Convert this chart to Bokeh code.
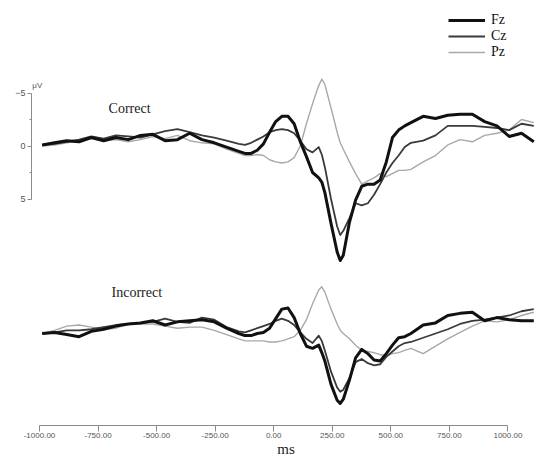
from bokeh.plotting import figure
from bokeh.models import (Range1d, LinearAxis, FixedTicker, NumeralTickFormatter,
                          Label, Legend, LegendItem)
from bokeh.embed import file_html
from bokeh.resources import INLINE

# ---------------- data (ms, microvolts; negative plotted upward) ----------------
time_ms = [-1000, -950, -900, -850, -800, -750, -700, -650, -600, -550, -500, -450,
           -400, -350, -300, -250, -200,
           -175, -150, -125, -100, -75, -50, -25, 0, 25, 50, 75, 100, 125,
           137.5, 150, 175, 200, 212.5,
           225, 250, 275, 300, 325, 350, 375, 400, 425, 450, 475, 500,
           550, 600, 650, 700, 750, 800, 850, 900, 950, 1000]

correct_fz = [-0.1, -0.3, -0.5, -0.4, -0.8, -0.5, -0.8, -0.6, -1.0, -1.1, -0.5, -0.6,
              -1.2, -0.6, -0.3, 0.1, 0.5,
              0.7, 0.7, 0.4, -0.2, -1.3, -2.3, -2.8, -2.8, -2.1, -0.4, 1.0, 2.5, 3.0,
              3.4, 4.4, 7.3, 10.0, 10.8,
              10.3, 7.2, 5.1, 3.8, 3.6, 3.6, 3.2, 1.5, -0.8, -1.5, -1.9, -2.2,
              -2.8, -2.6, -2.9, -3.0, -3.0, -2.3, -1.9, -0.9, -1.2, -0.4]
correct_cz = [-0.1, -0.2, -0.4, -0.6, -0.9, -0.7, -1.0, -0.9, -0.8, -1.1, -1.4, -1.6,
              -1.3, -1.0, -0.8, -0.5, -0.2,
              -0.1, -0.3, -0.6, -0.9, -1.3, -1.5, -1.6, -1.5, -1.2, -0.5, 0.3, 0.6, 0.1,
              0.8, 2.0, 5.0, 7.6, 8.4,
              8.0, 6.8, 5.4, 5.6, 5.4, 4.6, 3.6, 2.5, 1.6, 0.9, 0.1, -0.3,
              -0.5, -1.0, -1.9, -1.9, -1.9, -1.8, -1.7, -1.5, -2.1, -1.9]
correct_pz = [0.0, -0.1, -0.3, -0.5, -0.7, -0.5, -0.6, -0.4, -0.6, -0.9, -0.7, -1.0,
              -0.5, -0.3, -0.2, 0.3, 0.7,
              0.9, 0.9, 0.8, 0.9, 1.3, 1.5, 1.6, 1.5, 1.1, 0.0, -2.1, -4.0, -5.7,
              -6.3, -5.8, -3.6, -1.3, -0.3,
              0.3, 1.5, 2.6, 3.6, 3.3, 3.0, 2.6, 2.9, 2.6, 2.3, 2.3, 2.2,
              1.5, 0.9, -0.1, -0.6, -0.4, -1.0, -1.2, -1.5, -2.5, -2.2]

incorrect_fz = [0.0, -0.1, 0.1, 0.3, -0.2, -0.4, -0.7, -0.9, -1.0, -1.2, -0.8, -1.1,
                -1.2, -1.3, -1.1, -0.5, 0.0,
                0.2, 0.2, 0.0, -0.1, -0.5, -1.4, -2.3, -2.4, -1.5, 0.0, 1.2, 1.4, 1.1,
                1.8, 2.6, 4.8, 6.3, 6.6,
                6.2, 4.4, 2.3, 1.5, 1.9, 2.5, 2.6, 1.9, 1.1, 0.4, 0.3, 0.0,
                -0.8, -1.0, -1.7, -1.9, -2.0, -1.2, -1.5, -1.3, -1.2, -1.2]
incorrect_cz = [0.0, -0.1, -0.3, -0.3, -0.4, -0.6, -0.8, -0.9, -1.0, -1.1, -1.4, -1.1,
                -1.0, -1.5, -1.3, -0.6, -0.2,
                -0.1, -0.3, -0.5, -0.7, -0.9, -1.2, -1.4, -1.2, -0.8, -0.1, 0.5, 0.9, 0.2,
                0.7, 1.6, 3.6, 5.1, 5.5,
                5.3, 4.2, 2.7, 2.4, 2.8, 3.0, 2.9, 2.2, 1.7, 1.2, 0.9, 0.8,
                0.4, 0.0, -0.4, -0.9, -1.2, -1.3, -1.5, -1.7, -2.1, -2.3]
incorrect_pz = [0.0, -0.3, -0.7, -0.8, -0.6, -0.4, -0.5, -0.9, -0.9, -0.9, -0.7, -0.5,
                -0.6, -0.6, -0.3, 0.1, 0.5,
                0.7, 0.7, 0.7, 0.7, 0.8, 0.8, 0.7, 0.5, 0.3, -0.3, -1.3, -2.8, -4.1,
                -4.4, -3.9, -2.3, -0.9, -0.3,
                0.0, 0.5, 1.1, 1.6, 1.7, 1.8, 2.0, 2.1, 1.9, 1.8, 1.6, 1.4,
                1.9, 1.2, 0.5, -0.1, -0.7, -1.2, -1.1, -1.3, -1.7, -2.0]

channels = ["Fz", "Cz", "Pz"]
x_ticks = [-1000, -750, -500, -250, 0, 250, 500, 750, 1000]
y_ticks = [-5, 0, 5]
y_minor_ticks = [-2.5, 2.5]

# ---------------- layout (figure pixels) ----------------
W, H = 550, 462
BORDER_L, BORDER_R, BORDER_T, BORDER_B = 31, 10, 0, 37
frame_l, frame_r = BORDER_L, W - BORDER_R
frame_t, frame_b = BORDER_T, H - BORDER_B

LINE_X0, LINE_PX_PER_MS = 287.5, 0.2458      # epoch traces
AXIS_X0, AXIS_PX_PER_MS = 273.2, 0.2342      # printed time axis
TOP_Y0, BOT_Y0, PX_PER_UV = 145.5, 333.0, 10.6


def xspan(x0, scale):
    return (frame_l - x0) / scale, (frame_r - x0) / scale


def yspan(y0):
    return (frame_b - y0) / PX_PER_UV, (frame_t - y0) / PX_PER_UV


p = figure(width=W, height=H, output_backend="svg", toolbar_location=None,
           x_range=Range1d(*xspan(LINE_X0, LINE_PX_PER_MS)),
           y_range=Range1d(*yspan(TOP_Y0)),
           x_axis_type=None, y_axis_type=None,
           min_border_left=BORDER_L, min_border_right=BORDER_R,
           min_border_top=BORDER_T, min_border_bottom=BORDER_B)
p.extra_x_ranges = {"axis": Range1d(*xspan(AXIS_X0, AXIS_PX_PER_MS))}
p.extra_y_ranges = {"inc": Range1d(*yspan(BOT_Y0))}
p.outline_line_color = None
p.background_fill_color = "white"
p.border_fill_color = "white"

styles = {"Fz": dict(line_color="#111111", line_width=3.0),
          "Cz": dict(line_color="#3a3a3a", line_width=1.8),
          "Pz": dict(line_color="#a8a8a8", line_width=1.4)}

correct = {"Fz": correct_fz, "Cz": correct_cz, "Pz": correct_pz}
incorrect = {"Fz": incorrect_fz, "Cz": incorrect_cz, "Pz": incorrect_pz}

top_renderers = {}
for ch in reversed(channels):
    top_renderers[ch] = p.line(time_ms, correct[ch], line_join="round", **styles[ch])
    p.line(time_ms, incorrect[ch], y_range_name="inc", line_join="round", **styles[ch])

# y axis of the upper panel
yax = LinearAxis(ticker=FixedTicker(ticks=y_ticks, minor_ticks=y_minor_ticks),
                 bounds=(-5, 5),
                 axis_line_color="#8a8a8a", major_tick_line_color="#8a8a8a",
                 minor_tick_line_color="#8a8a8a",
                 major_tick_out=4, major_tick_in=0, minor_tick_out=2, minor_tick_in=0,
                 major_label_standoff=2,
                 major_label_text_font="Liberation Sans",
                 major_label_text_font_size="9px",
                 major_label_text_color="#555555")
p.add_layout(yax, "left")

# printed time axis
xax = LinearAxis(x_range_name="axis", ticker=FixedTicker(ticks=x_ticks, minor_ticks=[]),
                 bounds=(-1000, 1000),
                 formatter=NumeralTickFormatter(format="0.00"),
                 axis_line_color="#8a8a8a", major_tick_line_color="#8a8a8a",
                 major_tick_out=6, major_tick_in=0,
                 major_label_standoff=1,
                 major_label_text_font="Liberation Sans",
                 major_label_text_font_size="8px",
                 major_label_text_color="#555555",
                 axis_label="ms", axis_label_standoff=0,
                 axis_label_text_font="Liberation Serif",
                 axis_label_text_font_style="normal",
                 axis_label_text_font_size="15px",
                 axis_label_text_color="#222222")
p.add_layout(xax, "below")

# annotations
p.add_layout(Label(x=-1040, y=-5.3, text="μV", text_font="Liberation Sans",
                   text_font_size="8px", text_color="#555555",
                   text_baseline="bottom", text_align="left"))
p.add_layout(Label(x=-730, y=-3.5, text="Correct", text_font="Liberation Serif",
                   text_font_size="14px", text_color="#1a1a1a",
                   text_baseline="middle", text_align="left"))
p.add_layout(Label(x=-718, y=-3.9, y_range_name="inc", text="Incorrect",
                   text_font="Liberation Serif", text_font_size="14px",
                   text_color="#1a1a1a", text_baseline="middle", text_align="left"))

legend = Legend(items=[LegendItem(label=ch, renderers=[top_renderers[ch]]) for ch in channels],
                location=(448 - frame_l, (frame_b - frame_t) - 60),
                orientation="vertical", margin=0, padding=0, spacing=0,
                label_height=16, glyph_height=16, glyph_width=37, label_standoff=6,
                label_text_font="Liberation Serif", label_text_font_size="14px",
                label_text_color="#111111",
                background_fill_alpha=0, border_line_alpha=0)
p.add_layout(legend)

open("out.html", "w").write(file_html(p, INLINE))
